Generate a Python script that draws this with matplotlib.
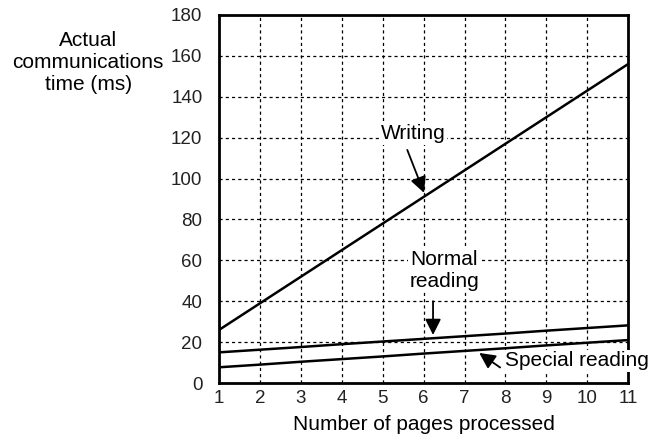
import matplotlib.pyplot as plt

plt.rcParams['font.family'] = ['Liberation Sans', 'DejaVu Sans']

pages = [1, 2, 3, 4, 5, 6, 7, 8, 9, 10, 11]
writing = [26, 39, 52, 65, 78, 91, 104, 117, 130, 143, 156]
normal_reading = [15, 16.3, 17.6, 19, 20.3, 21.6, 22.9, 24.2, 25.6, 26.9, 28.2]
special_reading = [7.7, 9, 10.4, 11.7, 13, 14.4, 15.7, 17, 18.4, 19.7, 21]

x_ticks = [1, 2, 3, 4, 5, 6, 7, 8, 9, 10, 11]
y_ticks = [0, 20, 40, 60, 80, 100, 120, 140, 160, 180]

fig = plt.figure(figsize=(6.64, 4.40), dpi=100)
ax = fig.add_axes([0.33, 0.1295, 0.616, 0.8365])

for s in (writing, normal_reading, special_reading):
    ax.plot(pages, s, color='black', lw=1.8, solid_capstyle='butt', zorder=3)

ax.set_xlim(1, 11)
ax.set_ylim(0, 180)
ax.set_xticks(x_ticks)
ax.set_yticks(y_ticks)
ax.grid(True, color='black', ls=(0, (2.5, 2.5)), lw=0.9)
ax.tick_params(length=0, labelsize=13.5, labelcolor='#222222')
ax.tick_params(axis='y', pad=12)
ax.tick_params(axis='x', pad=5)
for sp in ax.spines.values():
    sp.set_linewidth(2)
    sp.set_zorder(4)

fig.text(0.133, 0.857, "Actual\ncommunications\ntime (ms)", ha='center', va='center',
         fontsize=15, linespacing=1.2)
ax.set_xlabel("Number of pages processed", fontsize=15, labelpad=6)

box = dict(facecolor='white', edgecolor='none', pad=1)
arrow = dict(arrowstyle='-|>', color='black', lw=1.3, mutation_scale=24,
             shrinkA=0, shrinkB=0)

ax.annotate("", xy=(6.01, 93), xytext=(5.6, 114), arrowprops=arrow, zorder=5)
ax.text(5.75, 122, "Writing", ha='center', va='center', fontsize=15, bbox=box, zorder=5)

ax.annotate("", xy=(6.23, 23.5), xytext=(6.23, 40), arrowprops=arrow, zorder=5)
ax.text(6.5, 55, "Normal\nreading", ha='center', va='center', fontsize=15,
        linespacing=1.15, bbox=box, zorder=5)

ax.annotate("", xy=(7.36, 14.7), xytext=(7.87, 7.6), arrowprops=arrow, zorder=5)
ax.text(8.0, 10.8, "Special reading", ha='left', va='center', fontsize=15,
        bbox=box, zorder=6, clip_on=False)

fig.savefig("out.png", dpi=100)
